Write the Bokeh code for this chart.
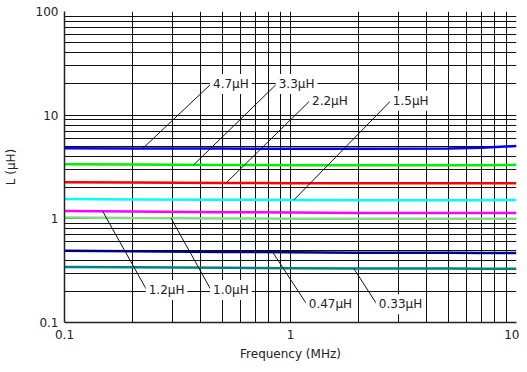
import numpy as np
from bokeh.plotting import figure
from bokeh.models import FixedTicker, ColumnDataSource
from bokeh.core.properties import value
from bokeh.embed import file_html
from bokeh.resources import INLINE

# ---- data ----
freq = [0.1, 0.2, 0.5, 1.0, 2.0, 5.0, 7.0, 10.0]
names = ["4.7µH", "3.3µH", "2.2µH", "1.5µH", "1.2µH", "1.0µH", "0.47µH", "0.33µH"]
L_47 = [4.80, 4.78, 4.76, 4.75, 4.75, 4.77, 4.84, 5.05]
L_33 = [3.36, 3.34, 3.31, 3.29, 3.28, 3.28, 3.29, 3.32]
L_22 = [2.25, 2.24, 2.22, 2.21, 2.20, 2.20, 2.20, 2.21]
L_15 = [1.55, 1.54, 1.53, 1.52, 1.51, 1.51, 1.51, 1.52]
L_12 = [1.19, 1.18, 1.16, 1.15, 1.14, 1.14, 1.14, 1.14]
L_10 = [1.03, 1.02, 1.01, 1.00, 1.00, 1.00, 1.00, 1.00]
L_047 = [0.493, 0.488, 0.480, 0.476, 0.472, 0.470, 0.469, 0.468]
L_033 = [0.344, 0.341, 0.337, 0.334, 0.332, 0.331, 0.330, 0.330]
series = [L_47, L_33, L_22, L_15, L_12, L_10, L_047, L_033]
colors = ["#0000ee", "#00ee00", "#ff0000", "#00ffff", "#ff00ff", "#80e080", "#000080", "#008080"]

# annotation label anchors (data units) and where the leader touches each curve
label_x = [0.445, 0.869, 1.22, 2.78, 0.231, 0.445, 1.18, 2.41]
label_y = [20.0, 20.0, 13.8, 13.8, 0.206, 0.206, 0.15, 0.15]
touch_x = [0.222, 0.373, 0.519, 1.035, 0.1475, 0.296, 0.834, 1.905]

x_major = [0.1, 1, 10]
y_major = [0.1, 1, 10, 100]
x_labels = {0.1: "0.1", 1: "1", 10: "10"}
y_labels = {0.1: "0.1", 1: "1", 10: "10", 100: "100"}

FONT = "DejaVu Sans"

p = figure(x_axis_type="log", y_axis_type="log",
           x_range=(0.1, 10), y_range=(0.1, 100),
           frame_width=452, frame_height=311,
           min_border_left=64, min_border_right=3, min_border_top=11, min_border_bottom=40,
           output_backend="svg", toolbar_location=None,
           x_axis_label="Frequency (MHz)", y_axis_label="L (µH)")
p.outline_line_color = None
p.background_fill_color = "white"

xminor = [m * 10.0 ** e for e in (-1, 0) for m in range(2, 10)]
yminor = [m * 10.0 ** e for e in (-1, 0, 1) for m in range(2, 10)]
p.xaxis.ticker = FixedTicker(ticks=x_major, minor_ticks=xminor)
p.yaxis.ticker = FixedTicker(ticks=y_major, minor_ticks=yminor)
p.xaxis.major_label_overrides = x_labels
p.yaxis.major_label_overrides = y_labels

for ax in (p.xaxis, p.yaxis):
    ax.major_tick_line_color = None
    ax.minor_tick_line_color = None
    ax.major_tick_out = 0
    ax.minor_tick_out = 0
    ax.major_tick_in = 0
    ax.axis_line_color = "#222222"
    ax.axis_line_width = 1.5
    ax.major_label_text_font = FONT
    ax.major_label_text_font_size = "12px"
    ax.major_label_text_color = "#222222"
    ax.axis_label_text_font = FONT
    ax.axis_label_text_font_size = "12px"
    ax.axis_label_text_font_style = "normal"
    ax.axis_label_text_color = "#222222"
p.xaxis.major_label_standoff = 7
p.xaxis.axis_label_standoff = 5
p.yaxis.major_label_standoff = 6
p.yaxis.axis_label_standoff = 15

for g in (p.xgrid, p.ygrid):
    g.grid_line_color = "#111111"
    g.grid_line_width = 1
    g.minor_grid_line_color = "#111111"
    g.minor_grid_line_width = 1

for vals, c in zip(series, colors):
    p.line(freq, vals, line_color=c, line_width=2.5)

# leader lines
lf = np.log10(freq)
touch_y = [10 ** np.interp(np.log10(tx), lf, np.log10(v)) for tx, v in zip(touch_x, series)]
for lx, ly, tx, ty in zip(label_x, label_y, touch_x, touch_y):
    p.line([lx, tx], [ly, ty], line_color="#111111", line_width=1)

src = ColumnDataSource(dict(x=label_x, y=label_y, t=names))
p.text(x="x", y="y", text="t", source=src, x_offset=-1,
       text_font=value(FONT), text_font_size="12px", text_color="#222222",
       text_baseline="middle", text_align="left",
       background_fill_color="white", padding=3)

open("out.html", "w").write(file_html(p, INLINE))
